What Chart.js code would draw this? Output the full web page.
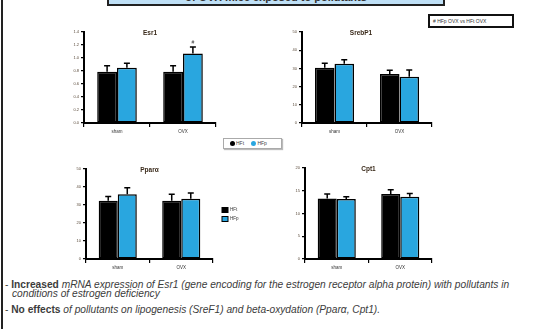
<!DOCTYPE html>
<html><head><meta charset="utf-8">
<script src="https://cdn.jsdelivr.net/npm/chart.js@4"></script>
<style>
html,body{margin:0;padding:0;width:533px;height:329px;overflow:hidden;background:#fff;font-family:"Liberation Sans",Arial,sans-serif;}
canvas{position:absolute;}
.abs{position:absolute;}
#notes i{font-style:italic;}
</style></head><body>
<div class="abs" style="left:1px;top:0;width:2px;height:329px;background:#222;"></div>
<div class="abs" style="left:107px;top:-12px;width:334px;height:14px;background:#bfe0f6;border:2px solid #222;overflow:hidden;text-align:center;font:bold 11px 'Liberation Sans';color:#333;line-height:14px;">of OVX mice exposed to pollutants</div>
<div class="abs" id="sigbox" style="left:428px;top:14px;width:79px;height:10px;border:2px solid #111;font:5px 'Liberation Sans';color:#333;line-height:10px;padding-left:3px;white-space:nowrap;"></div>
<div class="abs" id="legbox" style="left:223px;top:138px;width:57px;height:9px;border:1px solid #aaa;box-shadow:1px 1px 1px #bbb;font:5px 'Liberation Sans';color:#444;line-height:9px;white-space:nowrap;"></div>
<canvas id="c1"></canvas><canvas id="c2"></canvas><canvas id="c3"></canvas><canvas id="c4"></canvas>
<div class="abs" id="notes" style="left:5px;top:280px;font:10.2px 'Liberation Sans';color:#3c3c3c;white-space:nowrap;line-height:9px;"></div>
<script>
// ---- data ----
const categories = ['sham', 'OVX'];
const seriesLabels = ['HFt', 'HFp'];
const sigLabel = '# HFp OVX vs HFt OVX';

const esr1HFt = [0.79, 0.79];
const esr1HFtErr = [0.09, 0.09];
const esr1HFp = [0.85, 1.07];
const esr1HFpErr = [0.07, 0.10];
const esr1Sig = ['', '#'];
const esr1Ticks = [0, 1.4, 0.2];

const srebHFt = [30.4, 26.9];
const srebHFtErr = [2.4, 2.1];
const srebHFp = [32.6, 25.4];
const srebHFpErr = [2.2, 3.7];
const srebTicks = [0, 50, 10];

const pparHFt = [32.4, 32.4];
const pparHFtErr = [2.3, 3.6];
const pparHFp = [36.0, 33.5];
const pparHFpErr = [3.6, 3.2];
const pparTicks = [0, 50, 10];

const cptHFt = [13.3, 14.3];
const cptHFtErr = [1.0, 0.9];
const cptHFp = [13.2, 13.7];
const cptHFpErr = [0.5, 0.7];
const cptTicks = [0, 20, 5];

const colors = ['#000000', '#29a6df'];

// ---- html text ----
document.getElementById('sigbox').textContent = sigLabel;
document.getElementById('legbox').innerHTML = seriesLabels.map((l,i)=>
  '<span style="display:inline-block;width:5px;height:5px;border-radius:50%;background:'+colors[i]+';margin:0 1px 0 6px;vertical-align:-0.5px;"></span>'+l).join(' ');
document.getElementById('notes').innerHTML =
 '<div>-&nbsp;<b>Increased</b> <i>mRNA expression of Esr1 (gene encoding for the estrogen receptor alpha protein) with pollutants in</i></div>'+
 '<div style="padding-left:7px"><i>conditions of estrogen deficiency</i></div>'+
 '<div style="margin-top:7px">-&nbsp;<b>No effects</b> <i>of pollutants on lipogenesis (SreF1) and beta-oxydation (Pparα, Cpt1).</i></div>';

// ---- plugin ----
const extras = {
  id: 'extras',
  afterDatasetsDraw(chart, args, opts) {
    const ctx = chart.ctx, ys = chart.scales.y, ca = chart.chartArea;
    ctx.save();
    chart.data.datasets.forEach((ds, di) => {
      const meta = chart.getDatasetMeta(di);
      meta.data.forEach((el, i) => {
        const v = ds.data[i], e = ds.err[i];
        const yt = ys.getPixelForValue(v + e);
        ctx.strokeStyle = '#000'; ctx.lineWidth = 1.5;
        ctx.beginPath(); ctx.moveTo(el.x, el.y); ctx.lineTo(el.x, yt);
        ctx.moveTo(el.x - 3, yt); ctx.lineTo(el.x + 3, yt); ctx.stroke();
        if (ds.sig && ds.sig[i]) {
          ctx.fillStyle = '#333'; ctx.font = '5px "Liberation Sans"';
          ctx.textAlign = 'center'; ctx.textBaseline = 'bottom';
          ctx.fillText(ds.sig[i], el.x, yt - 2);
        }
      });
    });
    ctx.fillStyle = '#3a2a1a'; ctx.font = 'bold 6.5px "Liberation Sans"';
    ctx.textAlign = 'center'; ctx.textBaseline = 'middle';
    ctx.fillText(opts.title, (ca.left + ca.right) / 2 + (opts.titleDx || 0), ca.top + 1);
    if (opts.legend) {
      ctx.font = '4.5px "Liberation Sans"'; ctx.textAlign = 'left';
      chart.data.datasets.forEach((ds, di) => {
        const lx = ca.right + 9, ly = ca.top + 41 + di * 9;
        ctx.fillStyle = ds.backgroundColor; ctx.strokeStyle = '#000'; ctx.lineWidth = 1;
        ctx.fillRect(lx, ly - 2.5, 6, 5); ctx.strokeRect(lx, ly - 2.5, 6, 5);
        ctx.fillStyle = '#333'; ctx.fillText(ds.label, lx + 8, ly);
      });
    }
    ctx.restore();
  }
};

function makeChart(id, area, title, t, a, ae, b, be, sigB, legend, titleDx) {
  const padL = 28, padT = 10, padB = 19, padR = legend ? 40 : 20;
  const cv = document.getElementById(id);
  const w = area.w + padL + padR, h = area.h + padT + padB;
  cv.width = w; cv.height = h;
  cv.style.left = (area.left - padL) + 'px'; cv.style.top = (area.top - padT) + 'px';
  cv.style.width = w + 'px'; cv.style.height = h + 'px';
  new Chart(cv, {
    type: 'bar',
    data: {
      labels: categories,
      datasets: [
        {label: seriesLabels[0], data: a, err: ae, backgroundColor: colors[0], borderColor: '#000', borderWidth: 1.5, borderSkipped: false},
        {label: seriesLabels[1], data: b, err: be, sig: sigB, backgroundColor: colors[1], borderColor: '#000', borderWidth: 1.5, borderSkipped: false}
      ]
    },
    options: {
      responsive: false, animation: false, devicePixelRatio: 1,
      layout: {padding: {top: padT, right: padR, left: 0, bottom: 0}},
      plugins: {legend: {display: false}, tooltip: {enabled: false}, title: {display: false},
        extras: {title: title, legend: legend, titleDx: titleDx}},
      datasets: {bar: {barPercentage: 1, categoryPercentage: 0.6}},
      scales: {
        x: {
          afterFit: s => { s.height = padB; },
          grid: {display: true, drawOnChartArea: false, drawTicks: true, tickLength: 4, color: '#000', lineWidth: 1.2, offset: true},
          border: {display: true, color: '#000', width: 2},
          ticks: {font: {size: 4.5, family: 'Liberation Sans'}, color: '#333', padding: 2}
        },
        y: {
          min: t[0], max: t[1],
          afterFit: s => { s.width = padL; },
          grid: {display: true, drawOnChartArea: false, drawTicks: true, tickLength: 3, color: '#000', lineWidth: 1.2},
          border: {display: true, color: '#000', width: 2},
          ticks: {stepSize: t[2], font: {size: 4, family: 'Liberation Sans'}, color: '#5a4a3a', padding: 2,
            callback: v => t[2] < 1 ? v.toFixed(1) : v}
        }
      }
    },
    plugins: [extras]
  });
}

makeChart('c1', {left: 84, top: 32, w: 132, h: 91}, 'Esr1', esr1Ticks, esr1HFt, esr1HFtErr, esr1HFp, esr1HFpErr, esr1Sig, false, 0);
makeChart('c2', {left: 302, top: 32, w: 130, h: 91}, 'SrebP1', srebTicks, srebHFt, srebHFtErr, srebHFp, srebHFpErr, null, false, -6);
makeChart('c3', {left: 86, top: 169, w: 127, h: 90}, 'Pparα', pparTicks, pparHFt, pparHFtErr, pparHFp, pparHFpErr, null, true, 0);
makeChart('c4', {left: 305, top: 168, w: 127, h: 91}, 'Cpt1', cptTicks, cptHFt, cptHFtErr, cptHFp, cptHFpErr, null, false, 0);
</script>
</body></html>
